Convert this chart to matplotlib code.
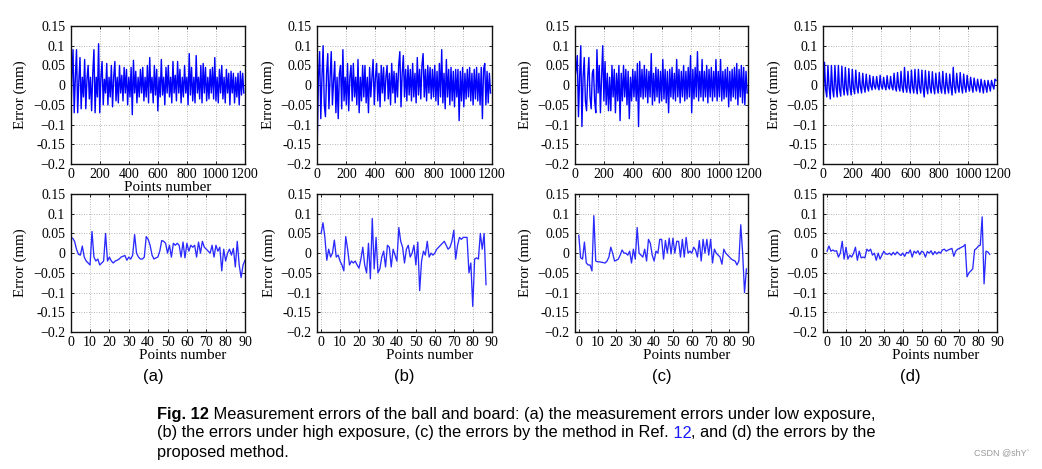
import numpy as np
import matplotlib
matplotlib.use("Agg")
import matplotlib.pyplot as plt

# ---------------- data ----------------
top_step = 8
top_a = [-0.11, 0.02, 0.09, -0.07, 0.02, 0.09, -0.07, 0.01, 0.07, -0.06,
         0.02, -0.03, 0.065, -0.06, 0.015, 0.05, -0.035, 0.02, -0.065, 0.03,
         0.09, -0.07, 0.02, -0.03, 0.105, -0.07, 0.02, 0.06, -0.05, 0.015,
         -0.02, 0.055, -0.05, 0.02, -0.03, 0.05, -0.055, 0.02, 0.06, -0.04,
         0.02, -0.045, 0.05, -0.02, 0.025, -0.04, 0.045, -0.02, 0.04, -0.05,
         0.02, -0.03, 0.045, -0.075, 0.063, -0.02, 0.035, -0.045, 0.02, -0.03,
         0.04, -0.02, 0.045, -0.04, 0.02, -0.03, 0.05, -0.045, 0.07, -0.02,
         0.02, -0.045, 0.05, -0.025, 0.04, -0.065, 0.02, -0.03, 0.065, -0.025,
         0.02, -0.05, 0.045, -0.02, 0.05, -0.03, 0.02, -0.045, 0.06, -0.02,
         0.025, -0.04, 0.06, -0.02, 0.04, -0.045, 0.02, -0.03, 0.05, -0.02,
         0.02, -0.05, 0.08, -0.025, 0.045, -0.04, 0.02, -0.045, 0.075, -0.02,
         0.02, -0.035, 0.05, -0.045, 0.055, -0.02, 0.045, -0.04, 0.02, -0.035,
         0.04, -0.02, 0.045, -0.035, 0.07, -0.04, 0.02, -0.045, 0.04, -0.02,
         0.05, -0.035, 0.02, -0.045, 0.04, -0.02, 0.03, -0.05, 0.035, -0.02,
         0.03, -0.045, 0.02, -0.03, 0.03, -0.05, 0.035, -0.025, 0.03, -0.02]
top_b = [-0.14, 0.02, 0.085, -0.085, 0.02, 0.1, -0.05, -0.08, 0.03, 0.08,
         -0.06, 0.02, 0.085, -0.05, 0.01, 0.06, -0.07, 0.02, -0.085, 0.03,
         0.05, -0.06, 0.09, -0.04, 0.02, -0.05, 0.055, -0.065, 0.02, 0.05,
         -0.04, 0.055, -0.03, 0.02, -0.05, 0.065, -0.07, 0.02, -0.04, 0.05,
         -0.03, 0.05, -0.045, 0.02, -0.07, 0.045, -0.03, 0.02, 0.065, -0.05,
         0.02, 0.055, -0.04, 0.03, -0.055, 0.05, -0.02, 0.045, -0.04, 0.02,
         0.05, -0.035, 0.03, -0.05, 0.055, -0.02, 0.035, -0.045, 0.03, -0.03,
         0.05, 0.085, -0.055, 0.03, 0.075, -0.03, 0.04, -0.04, 0.05, -0.025,
         0.04, -0.04, 0.055, -0.03, 0.03, -0.045, 0.07, -0.025, 0.04, -0.035,
         0.05, 0.08, -0.03, 0.04, -0.04, 0.05, -0.02, 0.045, -0.035, 0.04,
         -0.03, 0.05, -0.04, 0.035, -0.05, 0.055, -0.03, 0.09, -0.045, 0.03,
         -0.06, 0.065, -0.03, 0.04, -0.05, 0.045, -0.04, 0.035, -0.055, 0.04,
         -0.03, 0.04, -0.09, 0.035, -0.04, 0.045, -0.055, 0.03, -0.035, 0.04,
         -0.03, 0.045, -0.04, 0.03, -0.05, 0.04, -0.035, 0.045, -0.04, 0.03,
         -0.05, 0.045, -0.085, 0.04, 0.055, -0.05, 0.035, -0.045, 0.03, -0.02]
top_c = [0.02, 0.04, 0.075, -0.08, 0.02, 0.1, -0.105, 0.02, 0.07, -0.04,
         -0.065, 0.02, 0.07, -0.03, -0.06, 0.03, 0.04, -0.04, -0.07, 0.09,
         -0.02, 0.05, -0.07, 0.02, 0.1, -0.04, 0.06, -0.05, 0.03, -0.065,
         0.02, -0.065, 0.05, -0.03, 0.04, -0.07, 0.03, -0.04, 0.05, -0.09,
         0.03, -0.04, 0.05, -0.03, 0.04, -0.05, 0.035, -0.085, 0.02, -0.04,
         0.04, -0.03, 0.035, -0.04, 0.055, -0.105, 0.06, -0.03, 0.04, -0.035,
         0.05, -0.03, 0.04, -0.045, 0.035, -0.03, 0.08, -0.05, 0.03, -0.04,
         0.045, -0.03, 0.04, -0.045, 0.035, -0.04, 0.065, -0.035, 0.04, -0.045,
         0.035, -0.07, 0.04, -0.03, 0.045, -0.035, 0.03, -0.04, 0.065, -0.03,
         0.04, -0.045, 0.035, -0.03, 0.05, -0.04, 0.035, -0.035, 0.045, -0.03,
         0.075, -0.07, 0.04, -0.035, 0.045, -0.03, 0.085, -0.04, 0.035, -0.03,
         0.065, -0.04, 0.035, -0.03, 0.05, -0.045, 0.04, -0.03, 0.045, -0.04,
         0.035, -0.03, 0.065, -0.04, 0.035, -0.03, 0.065, -0.04, 0.035, -0.035,
         0.04, -0.03, 0.045, -0.055, 0.035, -0.04, 0.04, -0.03, 0.045, -0.035,
         0.055, -0.05, 0.04, -0.03, 0.05, -0.045, 0.045, -0.05, 0.035, -0.02]
top_d = [-0.03, 0.058, -0.01, -0.03, 0.05, -0.005, -0.035, 0.05, -0.01, -0.03,
         0.05, -0.005, -0.03, 0.05, -0.01, -0.028, 0.048, -0.005, -0.025, 0.045,
         -0.01, -0.025, 0.042, -0.005, -0.025, 0.04, -0.008, -0.022, 0.038, -0.005,
         -0.02, 0.032, -0.005, -0.02, 0.03, -0.004, -0.018, 0.028, -0.005, -0.015,
         0.025, -0.002, -0.012, 0.022, -0.003, -0.01, 0.022, -0.002, -0.012, 0.025,
         -0.003, -0.01, 0.02, -0.002, -0.012, 0.024, -0.004, -0.01, 0.022, -0.003,
         -0.012, 0.03, -0.005, -0.015, 0.032, -0.004, -0.015, 0.035, -0.006, -0.018,
         0.045, -0.005, -0.018, 0.035, -0.006, -0.02, 0.038, -0.005, -0.02, 0.04,
         -0.006, -0.022, 0.04, -0.005, -0.02, 0.038, -0.006, -0.03, 0.037, -0.005,
         -0.022, 0.035, -0.006, -0.02, 0.034, -0.005, -0.022, 0.03, -0.004, -0.02,
         0.032, -0.005, -0.02, 0.035, -0.004, -0.022, 0.03, -0.005, -0.02, 0.028,
         -0.004, -0.025, 0.045, -0.005, -0.02, 0.03, -0.004, -0.018, 0.032, -0.003,
         -0.02, 0.028, -0.004, -0.018, 0.025, -0.003, -0.015, 0.02, -0.003, -0.018,
         0.018, -0.002, -0.015, 0.015, -0.003, -0.018, 0.015, -0.002, -0.02, 0.012,
         -0.003, -0.018, 0.012, -0.002, -0.015, 0.012, 0.0, -0.01, 0.015, 0.012]

bot_a = [0.038, 0.03, 0.01, -0.003, -0.005, 0.018, -0.01, -0.02, -0.025, -0.03,
         0.055, -0.01, -0.02, -0.015, -0.03, -0.025, -0.02, 0.05, -0.02, -0.01,
         -0.02, -0.025, -0.02, -0.018, -0.015, -0.01, -0.008, -0.006, -0.018, -0.01,
         -0.015, -0.005, 0.047, 0.0, -0.01, -0.015, -0.015, -0.01, 0.042, 0.035,
         0.02, -0.005, -0.015, -0.012, -0.01, 0.005, 0.032, 0.03, 0.025, 0.0,
         0.02, -0.01, 0.025, 0.02, 0.025, 0.02, -0.01, 0.028, -0.012, 0.025,
         0.005, 0.02, 0.015, 0.02, -0.01, 0.028, 0.0, 0.03, 0.015, 0.01,
         0.005, 0.0, 0.02, -0.01, 0.02, 0.005, 0.015, -0.045, 0.01, -0.02,
         0.0, 0.01, -0.005, 0.012, -0.035, 0.03, -0.03, -0.062, -0.03, -0.018]
bot_a_start = 1
bot_b = [0.05, 0.077, 0.04, -0.018, 0.01, -0.01, 0.0, 0.033, -0.01, -0.005,
         -0.02, -0.03, -0.045, 0.042, 0.01, -0.03, -0.02, -0.025, -0.02, -0.03,
         -0.038, -0.015, 0.015, -0.03, -0.05, 0.025, -0.065, 0.088, -0.04, 0.04,
         -0.05, -0.04, -0.01, 0.005, -0.035, 0.02, 0.015, -0.035, 0.01, -0.005,
         -0.02, 0.065, 0.03, 0.015, -0.025, 0.01, 0.02, -0.01, 0.0, 0.02,
         -0.03, 0.028, -0.095, -0.02, 0.005, -0.005, 0.03, -0.01, 0.0, -0.005,
         0.0, 0.01, 0.015, 0.02, 0.025, 0.03, 0.02, 0.01, 0.015, 0.03,
         0.058, -0.015, 0.02, 0.04, 0.035, 0.04, 0.04, 0.04, -0.05, -0.025,
         -0.135, -0.015, -0.012, -0.015, 0.05, 0.01, 0.05, -0.08]
bot_b_start = 0
bot_c = [0.045, -0.012, -0.015, 0.028, -0.025, -0.03, -0.03, -0.045, 0.095, -0.02,
         -0.022, -0.022, -0.023, -0.024, -0.025, -0.02, -0.01, 0.015, 0.0, -0.02,
         -0.018, -0.015, -0.005, 0.008, 0.0, 0.0, -0.005, 0.005, -0.025, 0.01,
         -0.015, 0.065, 0.0, -0.005, -0.01, 0.01, -0.02, 0.035, 0.025, -0.005,
         -0.02, 0.005, 0.0, 0.035, 0.035, -0.015, 0.032, 0.0, 0.038, -0.002,
         0.038, 0.0, 0.03, 0.03, -0.01, 0.035, -0.01, 0.04, 0.0, 0.005,
         0.0, 0.015, 0.008, -0.01, 0.032, -0.02, 0.035, 0.0, 0.035, -0.005,
         0.035, -0.025, 0.01, 0.0, -0.005, -0.01, -0.028, 0.01, 0.0, -0.005,
         -0.01, -0.015, -0.018, -0.02, -0.03, -0.02, 0.072, 0.0, -0.1, -0.04]
bot_c_start = 0
bot_d = [0.005, 0.018, 0.005, 0.008, 0.005, 0.006, -0.01, 0.0, 0.03, -0.015,
         0.015, -0.015, -0.005, -0.01, 0.0, 0.015, -0.018, 0.005, -0.012, -0.01,
         -0.012, 0.01, 0.005, 0.01, -0.005, 0.0, -0.018, 0.0, -0.015, -0.005,
         0.005, -0.002, -0.003, 0.0, -0.005, 0.002, -0.004, 0.003, -0.002, -0.006,
         0.0, -0.008, 0.002, 0.0, 0.008, -0.01, 0.005, 0.0, 0.006, -0.004,
         0.005, 0.002, -0.01, 0.004, 0.0, 0.006, -0.004, 0.004, -0.002, 0.003,
         0.0, 0.008, 0.01, 0.005, 0.008, 0.01, 0.012, -0.008, 0.005, 0.01,
         0.012, 0.015, 0.017, 0.022, -0.06, -0.05, -0.045, -0.04, 0.008, 0.012,
         0.018, 0.02, 0.092, -0.078, 0.005, 0.003, -0.003]
bot_d_start = 0

y_ticks = [-0.2, -0.15, -0.1, -0.05, 0, 0.05, 0.1, 0.15]
y_ticklabels = ['\u22120.2', '-0.15', '\u22120.1', '\u22120.05', '0', '0.05', '0.1', '0.15']
top_xticks = [0, 200, 400, 600, 800, 1000, 1200]
bot_xticks = [0, 10, 20, 30, 40, 50, 60, 70, 80, 90]
panel_letters = ['(a)', '(b)', '(c)', '(d)']
ylabel_text = 'Error (mm)'
xlabel_text = 'Points number'

# ---------------- figure ----------------
W, H = 1042, 469
fig = plt.figure(figsize=(W / 100, H / 100), dpi=100)
serif = ['Liberation Serif', 'DejaVu Serif']
sans = ['Liberation Sans', 'DejaVu Sans']
TICK_FS = 10
LAB_FS = 10.8

col_px = [(70.7, 245.0), (317.3, 491.7), (575.0, 748.3), (823.3, 997.3)]
top_px = (26, 164)
bot_px = (194, 332)
ylab_off = [[-50, -48, -49, -48], [-50, -47, -49, -47]]

def make_ax(cx, ry):
    l, r = cx
    t, b = ry
    return fig.add_axes([l / W, 1 - b / H, (r - l) / W, (b - t) / H])

def style(ax):
    ax.set_ylim(-0.2, 0.15)
    ax.set_yticks(y_ticks)
    ax.set_yticklabels(y_ticklabels, family=serif, fontsize=TICK_FS)
    ax.tick_params(axis='both', direction='in', length=2, width=0.6,
                   top=True, right=True, colors='black')
    ax.tick_params(axis='y', pad=4)
    ax.tick_params(axis='x', pad=3)
    ax.grid(True, linestyle=(0, (1, 2)), color='#a0a0a0', linewidth=0.6)
    for s in ax.spines.values():
        s.set_linewidth(1.0)
        s.set_color('#111111')

tops = [top_a, top_b, top_c, top_d]
bots = [(bot_a, bot_a_start), (bot_b, bot_b_start), (bot_c, bot_c_start), (bot_d, bot_d_start)]

for i in range(4):
    ax = make_ax(col_px[i], top_px)
    x = np.arange(len(tops[i])) * top_step
    ax.plot(x, tops[i], color='#0000ff', linewidth=1.0)
    ax.set_xlim(0, 1200)
    ax.set_xticks(top_xticks)
    ax.set_xticklabels([str(v) for v in top_xticks], family=serif, fontsize=TICK_FS)
    style(ax)
    w = col_px[i][1] - col_px[i][0]
    ax.set_ylabel(ylabel_text, family=serif, fontsize=LAB_FS)
    ax.yaxis.set_label_coords((ylab_off[0][i] + 6) / w, 0.5)
    if i == 0:
        ax.set_xlabel(xlabel_text, family=serif, fontsize=LAB_FS)
        ax.xaxis.set_label_coords(0.5 + 10 / w, -17 / 138)

    ax2 = make_ax(col_px[i], bot_px)
    vals, start = bots[i]
    xb = np.arange(len(vals)) + start
    ax2.plot(xb, vals, color='#2a2aff', linewidth=0.95)
    ax2.set_xlim(0 if i == 0 else -2, 90)
    ax2.set_xticks(bot_xticks)
    ax2.set_xticklabels([str(v) for v in bot_xticks], family=serif, fontsize=TICK_FS)
    style(ax2)
    ax2.set_ylabel(ylabel_text, family=serif, fontsize=LAB_FS)
    ax2.yaxis.set_label_coords((ylab_off[1][i] + 6) / w, 0.5)
    ax2.set_xlabel(xlabel_text, family=serif, fontsize=LAB_FS)
    ax2.xaxis.set_label_coords(0.5 + 25 / w, -17 / 138)

letter_x = [153, 404, 662, 910]
for lx, letter in zip(letter_x, panel_letters):
    fig.text(lx / W, 1 - 376 / H, letter, family=sans, fontsize=12,
             ha='center', va='center')

# caption built piece by piece, sized so the first line spans the same width
renderer = fig.canvas.get_renderer()
caption_lines = [
    [("Fig. 12", 'bold', 'black'),
     (" Measurement errors of the ball and board: (a) the measurement errors under low exposure,", 'normal', 'black')],
    [("(b) the errors under high exposure, (c) the errors by the method in Ref.", 'normal', 'black'),
     (" 12", 'normal', '#1a1aff'),
     (", and (d) the errors by the", 'normal', 'black')],
    [("proposed method.", 'normal', 'black')],
]
line_y = [414, 433, 452]
cap_left, cap_right = 157.0, 880.0

def line_width(pieces, size):
    total = 0.0
    for txt, wt, col in pieces:
        t = fig.text(0, 0, txt, family=sans, fontsize=size, fontweight=wt)
        total += t.get_window_extent(renderer).width
        t.remove()
    return total

cap_size = 10.0 * (cap_right - cap_left) / line_width(caption_lines[0], 10.0)
for ly, pieces in zip(line_y, caption_lines):
    xpix = cap_left
    for txt, wt, col in pieces:
        t = fig.text(xpix / W, 1 - ly / H, txt, family=sans, fontsize=cap_size,
                     fontweight=wt, color=col, ha='left', va='center')
        xpix = t.get_window_extent(renderer).x1

fig.text(1030 / W, 1 - 453 / H, 'CSDN @shY`', family=sans, fontsize=6.5,
         color='#9a9a9a', ha='right', va='center')

fig.savefig('out.png', dpi=100)
